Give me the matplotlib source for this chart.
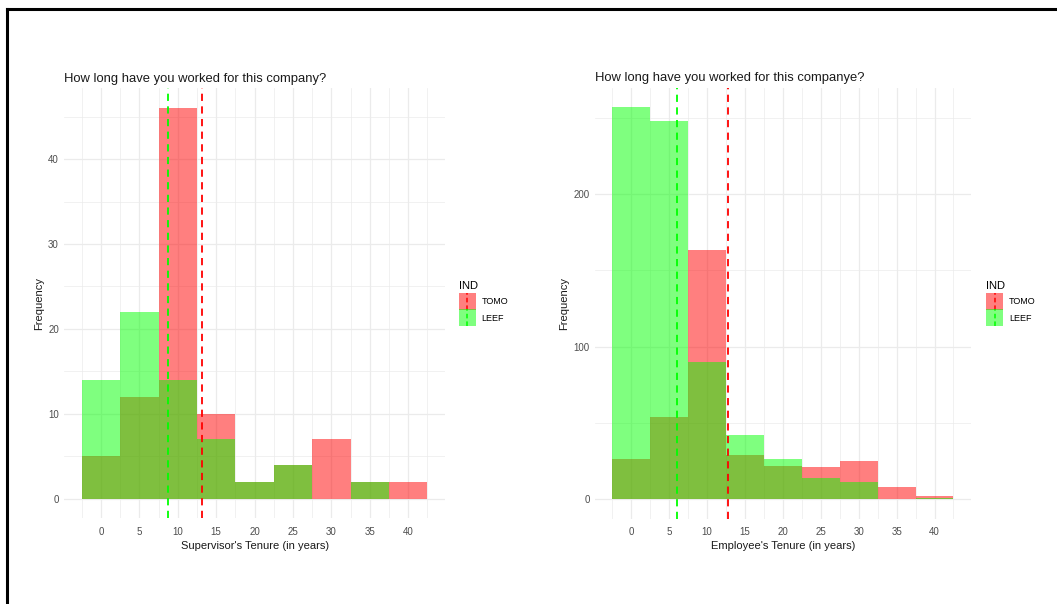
import matplotlib
matplotlib.use("Agg")
import matplotlib.pyplot as plt
from matplotlib.legend_handler import HandlerBase
from matplotlib.lines import Line2D
from matplotlib.patches import Rectangle
from matplotlib.ticker import MultipleLocator
import numpy as np

plt.rcParams["font.family"] = ["Liberation Sans", "DejaVu Sans"]

# histogram bins (centre of each 5-year bin)
BIN_CENTRES = [0, 5, 10, 15, 20, 25, 30, 35, 40]
GROUPS = ["TOMO", "LEEF"]

# supervisors
SUP_TOMO = [5, 12, 46, 10, 2, 4, 7, 2, 2]
SUP_LEEF = [14, 22, 14, 7, 2, 4, 0, 2, 0]
SUP_MEAN_TOMO = 13.2
SUP_MEAN_LEEF = 8.7

# employees
EMP_TOMO = [26, 54, 163, 29, 22, 21, 25, 8, 2]
EMP_LEEF = [257, 248, 90, 42, 26, 14, 11, 0, 1]
EMP_MEAN_TOMO = 12.8
EMP_MEAN_LEEF = 6.0

RED = "#FF0000"
GREEN = "#00FF00"
GRID = "#EBEBEB"
BIN_W = 5


class FillWithVline(HandlerBase):
    """Legend key: translucent fill with a vertical dashed line through it."""

    def __init__(self, colour):
        super().__init__()
        self.colour = colour

    def create_artists(self, legend, orig_handle, xdescent, ydescent,
                       width, height, fontsize, trans):
        y0, y1 = -ydescent - 2, -ydescent + height + 2
        rect = Rectangle((-xdescent, y0), width, y1 - y0,
                         facecolor=self.colour, alpha=0.5, edgecolor="none",
                         transform=trans)
        cx = -xdescent + width / 2
        line = Line2D([cx, cx], [y0, y1],
                      color=self.colour, linestyle=(0, (3, 2)), linewidth=1.1,
                      transform=trans)
        return [rect, line]


def draw_panel(ax, tomo, leef, mean_tomo, mean_leef, title, xlabel,
               ymajor, legend_x):
    x = np.array(BIN_CENTRES)
    ax.bar(x, tomo, width=BIN_W, color=RED, alpha=0.5, linewidth=0)
    ax.bar(x, leef, width=BIN_W, color=GREEN, alpha=0.5, linewidth=0)

    ax.axvline(mean_leef, color=GREEN, linestyle=(0, (4, 3)), linewidth=1.3)
    ax.axvline(mean_tomo, color=RED, linestyle=(0, (4, 3)), linewidth=1.3)

    lo, hi = x[0] - BIN_W / 2, x[-1] + BIN_W / 2
    pad = (hi - lo) * 0.05
    ax.set_xlim(lo - pad, hi + pad)
    ymax = max(max(tomo), max(leef))
    ax.set_ylim(-ymax * 0.05, ymax * 1.05)

    ax.xaxis.set_major_locator(MultipleLocator(5))
    ax.xaxis.set_minor_locator(MultipleLocator(2.5))
    ax.yaxis.set_major_locator(MultipleLocator(ymajor))
    ax.yaxis.set_minor_locator(MultipleLocator(ymajor / 2))
    ax.set_xticks(BIN_CENTRES)

    ax.grid(which="major", color=GRID, linewidth=0.9)
    ax.grid(which="minor", color=GRID, linewidth=0.5)
    ax.set_axisbelow(True)
    for s in ax.spines.values():
        s.set_visible(False)
    ax.tick_params(which="both", length=0, labelsize=7, labelcolor="#4D4D4D")
    ax.tick_params(axis="x", pad=6)
    ax.tick_params(axis="y", pad=4)

    ax.set_title(title, loc="left", fontsize=9.4, pad=5, color="#1A1A1A")
    ax.set_xlabel(xlabel, fontsize=8, labelpad=3, color="#1A1A1A")
    ax.set_ylabel("Frequency", fontsize=8, labelpad=3, color="#1A1A1A")

    handles = [Rectangle((0, 0), 1, 1), Rectangle((0, 0), 1, 1)]
    leg = ax.legend(handles, GROUPS, title="IND",
                    handler_map={handles[0]: FillWithVline(RED),
                                 handles[1]: FillWithVline(GREEN)},
                    loc="upper left", bbox_to_anchor=(legend_x, 0.5345),
                    bbox_transform=ax.figure.transFigure,
                    frameon=False, fontsize=6.5, title_fontsize=8,
                    handlelength=1.9, handleheight=1.6, handletextpad=0.6,
                    labelspacing=0.5, borderpad=0, borderaxespad=0)
    leg._legend_box.align = "left"


fig = plt.figure(figsize=(10.57, 6.04), dpi=100)

ax1 = fig.add_axes([0.0610, 0.1416, 0.3597, 0.7119])
draw_panel(ax1, SUP_TOMO, SUP_LEEF, SUP_MEAN_TOMO, SUP_MEAN_LEEF,
           "How long have you worked for this company?",
           "Supervisor's Tenure (in years)", 10, 0.434)

ax2 = fig.add_axes([0.5632, 0.1413, 0.3550, 0.7138])
draw_panel(ax2, EMP_TOMO, EMP_LEEF, EMP_MEAN_TOMO, EMP_MEAN_LEEF,
           "How long have you worked for this companye?",
           "Employee's Tenure (in years)", 100, 0.933)

# frame along the top and left of the page
fig.add_artist(Line2D([0.0066, 1.0], [0.9851, 0.9851], color="black",
                      linewidth=2.2, transform=fig.transFigure))
fig.add_artist(Line2D([0.0066, 0.0066], [0.0, 0.9851], color="black",
                      linewidth=2.2, transform=fig.transFigure))

fig.savefig("out.png", dpi=100)
